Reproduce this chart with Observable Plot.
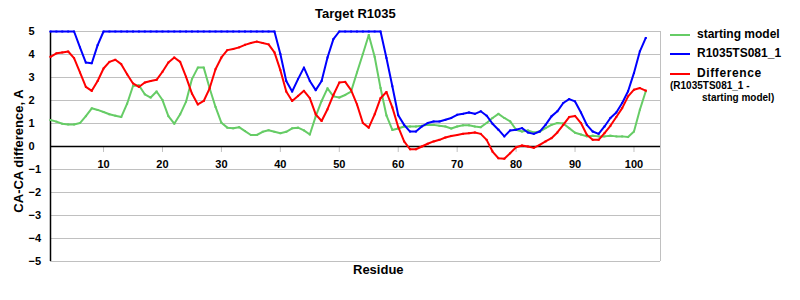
<!DOCTYPE html>
<html>
<head>
<meta charset="utf-8">
<script src="https://cdn.jsdelivr.net/npm/d3@7"></script>
<script src="https://cdn.jsdelivr.net/npm/@observablehq/plot@0.6"></script>
<style>
  html, body { margin: 0; padding: 0; background: #fff; }
  #wrap { position: relative; width: 800px; height: 300px; font-family: "Liberation Sans", Arial, sans-serif; font-weight: bold; color: #000; }
  #wrap svg { position: absolute; left: 0; top: 0; }
  .lbl { position: absolute; white-space: nowrap; }
  .sw { position: absolute; width: 20px; height: 2px; }
</style>
</head>
<body>
<div id="wrap"></div>
<script>
const title = "Target R1035";
const yLabel = "CA-CA difference, A";
const xLabel = "Residue";
const seriesNames = ["starting model", "R1035TS081_1", "Difference"];
const seriesColors = ["#66cc66", "#0000ff", "#ff0000"];
const yTicks = [-5, -4, -3, -2, -1, 0, 1, 2, 3, 4, 5];
const xTicks = [10, 20, 30, 40, 50, 60, 70, 80, 90, 100];

const residues = d3.range(1, 103);
const startingModel = [
  1.15, 1.08, 0.99, 0.96, 0.96, 1.02, 1.32, 1.66, 1.59, 1.50,
  1.40, 1.34, 1.28, 1.86, 2.63, 2.66, 2.27, 2.13, 2.39, 2.02,
  1.32, 0.99, 1.40, 1.95, 2.93, 3.43, 3.43, 2.53, 1.72, 1.03,
  0.82, 0.79, 0.84, 0.67, 0.50, 0.50, 0.64, 0.71, 0.64, 0.58,
  0.64, 0.79, 0.82, 0.70, 0.52, 1.31, 1.98, 2.53, 2.18, 2.13,
  2.24, 2.39, 3.22, 4.02, 4.85, 3.90, 2.54, 1.35, 0.72, 0.78,
  0.87, 0.87, 0.87, 0.90, 0.94, 0.94, 0.90, 0.87, 0.78, 0.87,
  0.92, 0.92, 0.87, 0.84, 1.02, 1.24, 1.42, 1.24, 1.09, 0.73,
  0.65, 0.70, 0.61, 0.65, 0.80, 0.94, 1.02, 1.00, 0.80, 0.60,
  0.52, 0.44, 0.47, 0.44, 0.44, 0.47, 0.44, 0.44, 0.41, 0.65,
  1.60, 2.40
];
const model081 = [
  5, 5, 5, 5, 5, 4.31, 3.65, 3.62, 4.41, 5,
  5, 5, 5, 5, 5, 5, 5, 5, 5, 5,
  5, 5, 5, 5, 5, 5, 5, 5, 5, 5,
  5, 5, 5, 5, 5, 5, 5, 5, 5, 4.02,
  2.85, 2.39, 2.93, 3.43, 2.85, 2.45, 2.85, 3.87, 4.67, 5,
  5, 5, 5, 5, 5, 5, 5, 3.85, 2.62, 1.36,
  0.94, 0.65, 0.65, 0.87, 1.02, 1.09, 1.09, 1.16, 1.24, 1.38,
  1.42, 1.48, 1.42, 1.53, 1.34, 0.99, 0.73, 0.44, 0.70, 0.73,
  0.80, 0.61, 0.55, 0.65, 0.94, 1.31, 1.53, 1.89, 2.06, 1.96,
  1.48, 0.94, 0.65, 0.55, 0.87, 1.24, 1.48, 1.89, 2.40, 3.20,
  4.14, 4.72
];
const difference = [
  3.90, 4.05, 4.09, 4.13, 3.84, 3.22, 2.59, 2.42, 2.85, 3.39,
  3.68, 3.77, 3.58, 3.14, 2.74, 2.59, 2.78, 2.85, 2.90, 3.25,
  3.65, 3.87, 3.68, 3.03, 2.30, 1.83, 1.98, 2.53, 3.36, 3.87,
  4.19, 4.24, 4.31, 4.42, 4.50, 4.56, 4.50, 4.44, 4.09, 3.32,
  2.39, 1.98, 2.20, 2.42, 2.10, 1.40, 1.11, 1.62, 2.24, 2.78,
  2.81, 2.45, 1.83, 1.02, 0.82, 1.40, 2.10, 2.37, 1.70, 0.85,
  0.22, -0.12, -0.12, 0.00, 0.12, 0.22, 0.29, 0.39, 0.46, 0.50,
  0.55, 0.58, 0.61, 0.55, 0.29, -0.22, -0.51, -0.53, -0.29, -0.03,
  0.04, 0.00, -0.06, 0.07, 0.22, 0.36, 0.61, 0.94, 1.28, 1.33,
  1.02, 0.51, 0.29, 0.29, 0.58, 0.90, 1.28, 1.67, 2.18, 2.47,
  2.54, 2.43
];

const seriesValues = [startingModel, model081, difference];
const rows = [];
seriesValues.forEach((vals, si) => {
  vals.forEach((v, i) => rows.push({series: seriesNames[si], residue: residues[i], value: v}));
});

const fmt = d => d < 0 ? "\u2212" + (-d) : String(d);

const lineMarks = seriesNames.flatMap((name, si) => {
  const data = rows.filter(r => r.series === name);
  return [
    Plot.line(data, {x: "residue", y: "value", stroke: seriesColors[si], strokeWidth: 2}),
    Plot.dot(data, {x: "residue", y: "value", symbol: "square", r: 1.1, fill: seriesColors[si], stroke: "none"})
  ];
});

const chart = Plot.plot({
  width: 800,
  height: 300,
  marginLeft: 50,
  marginRight: 140,
  marginTop: 31,
  marginBottom: 39,
  style: {fontFamily: "'Liberation Sans', Arial, sans-serif", fontWeight: "bold", fontSize: "11px", background: "#fff", overflow: "visible"},
  x: {domain: [1, 104.5], axis: null},
  y: {domain: [-5, 5], axis: null},
  marks: [
    Plot.ruleY(yTicks.filter(d => d !== 0), {y: d => d, stroke: "#c0c0c0", strokeWidth: 1}),
    Plot.ruleX([104.5], {stroke: "#c0c0c0", strokeWidth: 1}),
    Plot.ruleX(xTicks, {x: d => d, y1: 0, y2: -0.26, stroke: "#c0c0c0", strokeWidth: 1}),
    Plot.ruleX([1], {stroke: "#000", strokeWidth: 1.5}),
    Plot.ruleY([0], {stroke: "#000", strokeWidth: 1.5}),
    Plot.text(yTicks, {y: d => d, text: fmt, frameAnchor: "left", dx: -22, textAnchor: "start", fill: "#000", fontSize: 11, fontWeight: "bold"}),
    Plot.text(xTicks, {x: d => d, y: 0, dy: 18, text: fmt, fill: "#000", fontSize: 11, fontWeight: "bold"}),
    ...lineMarks
  ]
});

const wrap = document.getElementById("wrap");
wrap.appendChild(chart);

function addLabel(text, css) {
  const d = document.createElement("div");
  d.className = "lbl";
  d.textContent = text;
  Object.assign(d.style, css);
  wrap.appendChild(d);
  return d;
}
addLabel(title, {left: "315px", top: "6px", fontSize: "13px"});
addLabel(xLabel, {left: "353px", top: "262px", fontSize: "13px"});
addLabel(yLabel, {left: "18px", top: "151px", fontSize: "13px", transform: "translate(-50%, -50%) rotate(-90deg)"});

// legend
const legendRows = [35, 54, 74];
seriesNames.forEach((name, i) => {
  const sw = document.createElement("div");
  sw.className = "sw";
  Object.assign(sw.style, {left: "670px", top: (legendRows[i] - 1) + "px", background: seriesColors[i]});
  wrap.appendChild(sw);
  addLabel(name, {left: "697px", top: (legendRows[i] - 8) + "px", fontSize: "12px", letterSpacing: i === 2 ? "0.6px" : "0px"});
});
addLabel("(R1035TS081_1 -", {left: "670px", top: "80px", fontSize: "10px"});
addLabel("starting model)", {left: "702px", top: "92px", fontSize: "10px"});
</script>
</body>
</html>
